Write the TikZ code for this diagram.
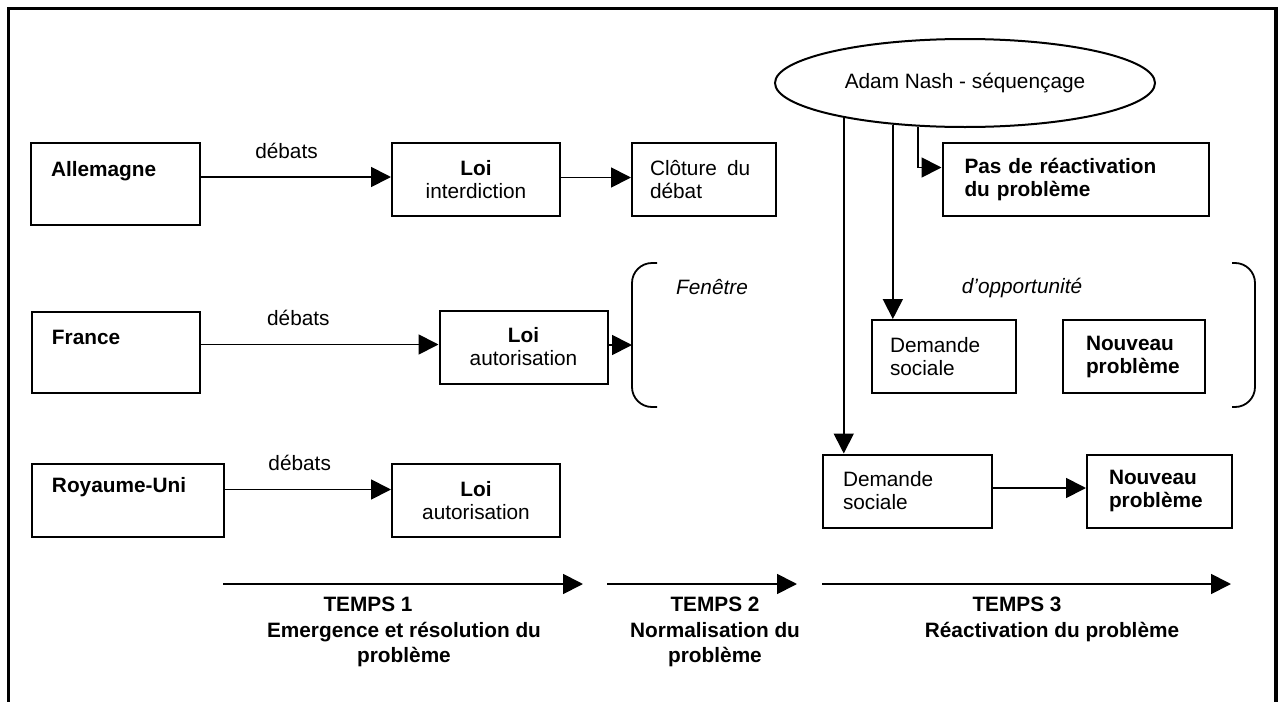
\documentclass[tikz,border=0pt]{standalone}
\usepackage{fontspec}
\setmainfont{Liberation Sans}
\usetikzlibrary{positioning,arrows.meta,shapes.geometric}
\tikzset{>={Triangle[width=10pt,length=10pt]}}

\begin{document}
\begin{tikzpicture}[x=0.5pt,y=-0.5pt,line width=0.9pt,
    font=\fontsize{10.4}{11.5}\selectfont,
    box/.style={draw,line width=1pt,inner xsep=10pt,inner ysep=0pt,minimum height=36.5pt,align=left},
    loi/.style={box,align=center,text width=64pt},
    window/.style={font=\fontsize{10.4}{11.5}\selectfont\itshape},
    temps/.style={font=\fontsize{10.4}{12.7}\selectfont\bfseries,align=center}]
    \useasboundingbox (0,0) rectangle (1282,702);
    \draw[line width=1.6pt] (8.5,702) -- (8.5,8.5) -- (1276,8.5) -- (1276,702);

    % temps 1
    \node (allemagne) [box,text width=64.5pt,minimum height=41pt] at (115.5,184) {\textbf{Allemagne}\\[4pt]\mbox{}};
    \node (loiA) [loi] at (476,179.5) {\textbf{Loi}\\interdiction};
    \node (cloture) [box,text width=54pt,inner xsep=9pt] at (704,179.5) {Clôture\hspace{5pt}du\\débat};
    \node (france) [box,text width=64pt,minimum height=40.5pt] at (116,352.5) {\textbf{France}\\[4pt]\mbox{}};
    \node (loiF) [loi] at (523.5,347) {\textbf{Loi}\\autorisation};
    \node (ru) [box,text width=76pt] at (128,500.5) {\textbf{Royaume-Uni}\\[4pt]\mbox{}};
    \node (loiR) [loi] at (476,500.5) {\textbf{Loi}\\autorisation};
    \coordinate (fenL) at (632,345);

    \path[->]
    ([yshift=3.5pt]allemagne.east) edge node[pos=0.45,above=5.5pt] {débats} ([yshift=3.5pt]allemagne.east -| loiA.west)
    ([yshift=1pt]loiA.east)        edge ([yshift=1pt]cloture.west)
    ([yshift=4pt]france.east)      edge node[pos=0.41,above=5.5pt] {débats} ([yshift=4pt]france.east -| loiF.west)
    ([yshift=1pt]loiF.east)        edge (fenL)
    ([yshift=5.5pt]ru.east)        edge node[pos=0.45,above=5.5pt] {débats} ([yshift=5.5pt]ru.east -| loiR.west);

    % fenetre d'opportunite
    \draw[rounded corners=10pt] (657,263) -| (632,335) |- (657,407);
    \draw[rounded corners=10pt] (1232,263) -| (1255,335) |- (1232,407);
    \node (fenetre) [window] at (712,287) {Fenêtre};
    \node (opport) [window] at (1022,288) {d’opportunité};

    % temps 3
    \node (nash) [ellipse,draw,line width=1pt,minimum width=190pt,minimum height=44pt] at (965,83) {Adam Nash - séquençage};
    \node (pas) [box,text width=111pt,inner xsep=11pt] at (1075.5,179.5) {\textbf{Pas de réactivation}\\\textbf{du problème}};
    \node (demandeM) [box,text width=54pt,inner xsep=9pt] at (944,356.5) {Demande\\sociale};
    \node (nouveauM) [box,text width=48pt,inner xsep=11.5pt] at (1134,356.5) {\textbf{Nouveau}\\\textbf{problème}};
    \node (demandeB) [box,text width=64.5pt] at (907.5,491) {Demande\\sociale};
    \node (nouveauB) [box,text width=50.5pt,inner xsep=11pt] at (1159.5,491) {\textbf{Nouveau}\\\textbf{problème}};

    \draw[->] (nash.196.5) -- (nash.196.5 |- demandeB.north);
    \draw[->] (nash.210.7) -- (nash.210.7 |- demandeM.north);
    \draw[->] (nash.223.5) |- ([yshift=6pt]pas.west);
    \draw[->] ([yshift=1.5pt]demandeB.east) -- ([yshift=1.5pt]nouveauB.west);

    % axe du temps
    \coordinate (t1a) at (223,584);
    \coordinate (t1b) at (583,584);
    \coordinate (t2a) at (607,584);
    \coordinate (t2b) at (797,584);
    \coordinate (t3a) at (822,584);
    \coordinate (t3b) at (1231,584);
    \draw[->] (t1a) -- (t1b);
    \draw[->] (t2a) -- (t2b);
    \draw[->] (t3a) -- (t3b);
    \node (temps1) [temps] at (404,632) {TEMPS 1\hspace{36pt}\mbox{}\\Emergence et résolution du\\problème};
    \node (temps2) [temps] at (715,632) {TEMPS 2\\Normalisation du\\problème};
    \node (temps3) [temps] at (1052,619.5) {TEMPS 3\hspace{35pt}\mbox{}\\Réactivation du problème};
\end{tikzpicture}
\end{document}
